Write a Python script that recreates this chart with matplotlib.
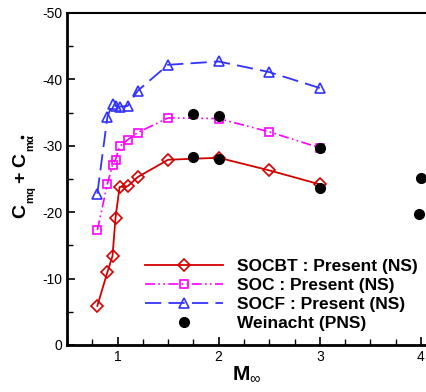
import numpy as np
import matplotlib
matplotlib.use("Agg")
import matplotlib.pyplot as plt
from matplotlib.lines import Line2D
from matplotlib.ticker import MultipleLocator

plt.rcParams['font.family'] = ['Liberation Sans', 'DejaVu Sans']
plt.rcParams['mathtext.fontset'] = 'custom'
plt.rcParams['mathtext.rm'] = 'Liberation Sans'
plt.rcParams['mathtext.bf'] = 'Liberation Sans:bold'
plt.rcParams['mathtext.it'] = 'Liberation Sans:italic'

mach = [0.8, 0.9, 0.95, 0.98, 1.02, 1.1, 1.2, 1.5, 2.0, 2.5, 3.0]
socbt = [-5.9, -11.0, -13.4, -19.2, -23.8, -23.9, -25.3, -27.9, -28.2, -26.3, -24.2]
soc = [-17.3, -24.3, -27.1, -27.9, -29.9, -30.9, -32.0, -34.2, -34.1, -32.1, -29.7]
socf = [-22.8, -34.4, -36.3, -36.0, -35.9, -36.0, -38.3, -42.2, -42.7, -41.1, -38.7]

wein_mach = [1.75, 1.75, 2.0, 2.0, 3.0, 3.0, 4.0, 3.98]
wein = [-34.8, -28.3, -34.5, -28.0, -29.7, -23.6, -25.1, -19.7]

W, H = 427, 392
fig = plt.figure(figsize=(W / 100, H / 100), dpi=100)
ax = fig.add_axes([67 / W, 47 / H, 1 - 67 / W, 332 / H])

ax.plot(mach, socbt, color='#d40000', lw=1.3, marker='D', ms=6.5,
        mfc='none', mew=1.2, label='SOCBT : Present (NS)')
ax.plot(mach, soc, color='#ff00ff', lw=1.2, marker='s', ms=6,
        mfc='none', mew=1.2, dashes=[6, 2, 1, 2, 1, 2],
        label='SOC : Present (NS)')
ax.plot(mach, socf, color='#3333ff', lw=1.3, marker='^', ms=7,
        mfc='none', mew=1.2, dashes=[9, 4], label='SOCF : Present (NS)')
ax.plot(wein_mach, wein, 'o', color='black', ms=7, label='Weinacht (PNS)')

ax.set_xlim(0.5, 4.06)
ax.set_ylim(0, -50)
ax.xaxis.set_major_locator(MultipleLocator(1))
ax.xaxis.set_minor_locator(MultipleLocator(0.25))
ax.yaxis.set_major_locator(MultipleLocator(10))
ax.yaxis.set_minor_locator(MultipleLocator(5))
ax.tick_params(which='both', direction='in', labelsize=10, top=False, right=False)
ax.tick_params(which='major', length=6, width=1.2)
ax.tick_params(which='minor', length=4, width=1)
ax.set_yticks([0, -10, -20, -30, -40, -50])
ax.set_yticklabels(['0', '-10', '-20', '-30', '-40', '-50'])

ax.spines['left'].set_linewidth(2)
ax.spines['bottom'].set_linewidth(2)
ax.spines['top'].set_linewidth(1.5)
ax.spines['right'].set_visible(False)

ax.set_xlabel(r'$\mathbf{M}_{\infty}$', fontsize=15, labelpad=1)

# y label built from pieces (big C, small subscripts)
def ytxt(s, x, y, size):
    fig.text(x / W, 1 - y / H, s, rotation=90, ha='center', va='center',
             fontsize=size, fontweight='bold')

ytxt('C', 21, 211, 14)
ytxt('mq', 30, 195, 8)
ytxt('+', 21, 177, 14)
ytxt('C', 21, 160, 14)
ytxt('m\u03b1', 30, 143, 8)
# the dot over alpha
fig.add_artist(Line2D([22 / W], [1 - 137 / H], marker='o', ms=1.6,
                      color='black', transform=fig.transFigure))

leg = ax.legend(loc='lower left', bbox_to_anchor=(0.183, 0.005), frameon=False,
                prop={'weight': 'bold', 'size': 12.5}, handlelength=4.5,
                handletextpad=0.8, labelspacing=0.22, borderpad=0.2)

fig.savefig('out.png', dpi=100)
